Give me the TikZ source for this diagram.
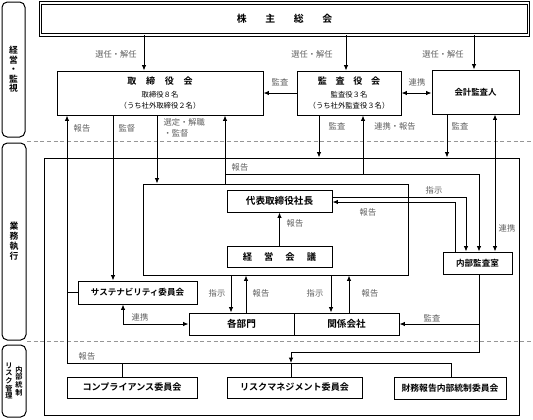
\documentclass[tikz,border=0pt]{standalone}
\usepackage{fontspec}
\setmainfont{Noto Sans CJK JP}[BoldFont={Noto Sans CJK JP Bold}]
\usetikzlibrary{arrows.meta}

\definecolor{lblgray}{RGB}{95,95,95}
\newcommand{\subfont}{\mdseries\fontsize{5.5}{7}\selectfont}

\tikzset{every picture/.style={line width=0.75pt}}
\tikzset{
  box/.style={draw, inner sep=0pt, align=center, font=\bfseries\fontsize{6.8}{8}\selectfont},
  side/.style={draw, rounded corners=4pt, inner sep=0pt, align=center},
  lbl/.style={inner sep=0.75pt, text=lblgray, font=\fontsize{6.2}{8.2}\selectfont},
  arr/.style={-{Latex[length=4pt,width=3.4pt]}},
  darr/.style={{Latex[length=4pt,width=3.4pt]}-{Latex[length=4pt,width=3.4pt]}},
  sep/.style={draw={rgb,255:red,150;green,150;blue,150}, dash pattern=on 3pt off 2pt},
}

\begin{document}
\begin{tikzpicture}[x=0.75pt,y=0.75pt,yscale=-1,xscale=1]
        \useasboundingbox (0,0) rectangle (533,419);

        % side captions
        \node[side, minimum width=17.25pt, minimum height=101.25pt, font=\bfseries\fontsize{6.6}{7.1}\selectfont] (sideA) at (13.5,69.5) {経\\営\\・\\監\\視};
        \node[side, minimum width=18pt, minimum height=147.75pt, font=\bfseries\fontsize{6.6}{7.5}\selectfont] (sideB) at (14,241.5) {業\\務\\執\\行};
        \node[side, minimum width=18pt, minimum height=54pt, font=\bfseries\fontsize{5.4}{5.7}\selectfont] (sideC) at (14,381)
            {\parbox[c]{6pt}{\centering リ\\ス\\ク\\管\\理}\hspace{1.5pt}\parbox[c]{6pt}{\centering 内\\部\\統\\制}};

        %Dashed Lines
        \draw[sep] (27,141) -- (533,141);
        \draw[sep] (27,341) -- (533,341);

        % boxes
        \node[box, double, double distance=1.3pt, minimum width=366pt, minimum height=23.5pt, font=\bfseries\fontsize{7.4}{8}\selectfont] (gm) at (284.5,19) {株\hspace{14pt}主\hspace{14pt}総\hspace{14pt}会};
        \node[box, minimum width=154.5pt, minimum height=33pt] (bod) at (160,93)
            {取\hspace{7.3pt}締\hspace{7.3pt}役\hspace{7.3pt}会\\[1.5pt]{\subfont 取締役８名}\\{\subfont （うち社外取締役２名）}};
        \node[box, minimum width=78pt, minimum height=33pt] (kansa) at (349,93)
            {監\hspace{6.5pt}査\hspace{6.5pt}役\hspace{6.5pt}会\\[1.5pt]{\subfont 監査役３名}\\{\subfont （うち社外監査役３名）}};
        \node[box, minimum width=65.25pt, minimum height=33pt, font=\bfseries\fontsize{6.3}{8}\selectfont] (auditor) at (475.5,92) {会計監査人};

        \node[box, minimum width=356.25pt, minimum height=192.75pt] (frame) at (281.5,286.5) {};
        \node[box, minimum width=198.75pt, minimum height=68.25pt] (inner) at (275.5,229.5) {};
        \node[box, minimum width=78.75pt, minimum height=16.5pt, font=\bfseries\fontsize{7.2}{8}\selectfont] (pres) at (279.5,201) {代表取締役社長};
        \node[box, minimum width=78.75pt, minimum height=15.75pt, font=\bfseries\fontsize{7}{8}\selectfont] (mtg) at (279.5,256.5) {経\hspace{9pt}営\hspace{9pt}会\hspace{9pt}議};
        \node[box, minimum width=51.75pt, minimum height=16.5pt, font=\bfseries\fontsize{6.4}{8}\selectfont] (ia) at (477.5,263) {内部監査室};
        \node[box, minimum width=89.25pt, minimum height=17.25pt, font=\bfseries\fontsize{6.4}{8}\selectfont] (sus) at (137.5,292.5) {サステナビリティ委員会};
        \node[box, minimum width=78.75pt, minimum height=16.5pt, font=\bfseries\fontsize{7.2}{8}\selectfont] (dept) at (241.5,324) {各部門};
        \node[box, minimum width=78.75pt, minimum height=16.5pt, font=\bfseries\fontsize{7.2}{8}\selectfont] (aff) at (346.5,324) {関係会社};
        \node[box, minimum width=97.5pt, minimum height=15.75pt] (comp) at (132,387.5) {コンプライアンス委員会};
        \node[box, minimum width=101.25pt, minimum height=15.75pt] (risk) at (294.5,387.5) {リスクマネジメント委員会};
        \node[box, minimum width=84pt, minimum height=16.5pt, font=\bfseries\fontsize{6.6}{8}\selectfont] (fin) at (450,388) {財務報告内部統制委員会};

        % line positions
        \coordinate (xsel1) at (144,0);
        \coordinate (xsel2) at (346,0);
        \coordinate (xsel3) at (474,0);
        \coordinate (xrep) at (67,0);
        \coordinate (xsup) at (113,0);
        \coordinate (xlnk) at (123,0);
        \coordinate (xcomp) at (122,0);
        \coordinate (xapp) at (157,0);
        \coordinate (xmgt) at (225,0);
        \coordinate (xord1) at (231,0);
        \coordinate (xrep1) at (246,0);
        \coordinate (xrisk) at (291,0);
        \coordinate (xaud1) at (319,0);
        \coordinate (xord2) at (331,0);
        \coordinate (xrep2) at (349,0);
        \coordinate (xcoop) at (363,0);
        \coordinate (xaud2) at (447,0);
        \coordinate (xfin) at (451,0);
        \coordinate (xiarep) at (455,0);
        \coordinate (xord) at (466,0);
        \coordinate (xia) at (479,0);
        \coordinate (xlink) at (495,0);
        \coordinate (ylink) at (0,174);
        \coordinate (yord) at (0,197);
        \coordinate (yiarep) at (0,202);
        \coordinate (yaud3) at (0,352);
        \coordinate (ybus) at (0,363);

        %Straight Lines
        \draw[arr] (gm.south -| xsel1) -- (bod.north -| xsel1);
        \draw[arr] (gm.south -| xsel2) -- (kansa.north -| xsel2);
        \draw[arr] (gm.south -| xsel3) -- (auditor.north -| xsel3);
        \draw[arr] (kansa.west) -- (bod.east);
        \draw[darr] (kansa.east) -- (auditor.west |- kansa.east);
        \draw[arr] (kansa.south -| xaud1) -- (frame.north -| xaud1);
        \draw[arr] (auditor.south -| xaud2) -- (frame.north -| xaud2);
        \draw[darr] (auditor.south -| xlink) -- (ia.north -| xlink);
        \draw[arr] (bod.south -| xapp) -- (inner.north -| xapp);
        \draw[arr] (bod.south -| xsup) -- (sus.north -| xsup);
        \draw[arr] (inner.north -| xmgt) -- (bod.south -| xmgt);
        \draw (xmgt |- ylink) -- (xia |- ylink);
        \draw[arr] (xcoop |- ylink) -- (kansa.south -| xcoop);
        \draw[arr] (xia |- ylink) -- (ia.north -| xia);
        \draw[arr] (pres.east |- yord) -- (xord |- yord) -- (ia.north -| xord);
        \draw[arr] (ia.north -| xiarep) -- (xiarep |- yiarep) -- (pres.east |- yiarep);
        \draw[arr] (mtg.north) -- (pres.south);
        \draw[arr] (inner.south -| xord1) -- (dept.north -| xord1);
        \draw[arr] (dept.north -| xrep1) -- (inner.south -| xrep1);
        \draw[arr] (inner.south -| xord2) -- (aff.north -| xord2);
        \draw[arr] (aff.north -| xrep2) -- (inner.south -| xrep2);
        \draw[darr] (sus.south -| xlnk) -- (xlnk |- dept.west) -- (dept.west);
        \draw[arr] (xia |- aff.east) -- (aff.east);
        \draw[arr] (ia.south -| xia) -- (xia |- yaud3) -- (xrisk |- yaud3) -- (xrisk |- ybus);
        % report bus
        \draw[arr] (xrep |- ybus) -- (bod.south -| xrep);
        \draw (sus.west) -- (sus.west -| xrep);
        \draw (xrep |- ybus) -- (xfin |- ybus) -- (fin.north -| xfin);
        \draw (comp.north -| xcomp) -- (xcomp |- ybus);
        \draw (risk.north -| xrisk) -- (xrisk |- ybus);

        % Text Node
        \node[lbl] (l1) at (116,54) {選任・解任};
        \node[lbl] (l2) at (312,54) {選任・解任};
        \node[lbl] (l3) at (443,54) {選任・解任};
        \node[lbl] (l4) at (280,82) {監査};
        \node[lbl] (l5) at (417,82) {連携};
        \node[lbl] (l6) at (82,128) {報告};
        \node[lbl] (l7) at (127,128) {監督};
        \node[lbl, anchor=west, align=left] (l8) at (162,127.5) {選定・解職\\・監督};
        \node[lbl] (l9) at (337,126) {監査};
        \node[lbl] (l10) at (395,126) {連携・報告};
        \node[lbl] (l11) at (460,126) {監査};
        \node[lbl] (l12) at (240,167) {報告};
        \node[lbl] (l13) at (434,190) {指示};
        \node[lbl] (l14) at (368,212) {報告};
        \node[lbl] (l15) at (295,223) {報告};
        \node[lbl] (l16) at (507,228) {連携};
        \node[lbl] (l17) at (217,293) {指示};
        \node[lbl] (l18) at (261,293) {報告};
        \node[lbl] (l19) at (315,293) {指示};
        \node[lbl] (l20) at (370,293) {報告};
        \node[lbl] (l21) at (140,317) {連携};
        \node[lbl] (l22) at (432,318) {監査};
        \node[lbl] (l23) at (87,356) {報告};

\end{tikzpicture}
\end{document}
